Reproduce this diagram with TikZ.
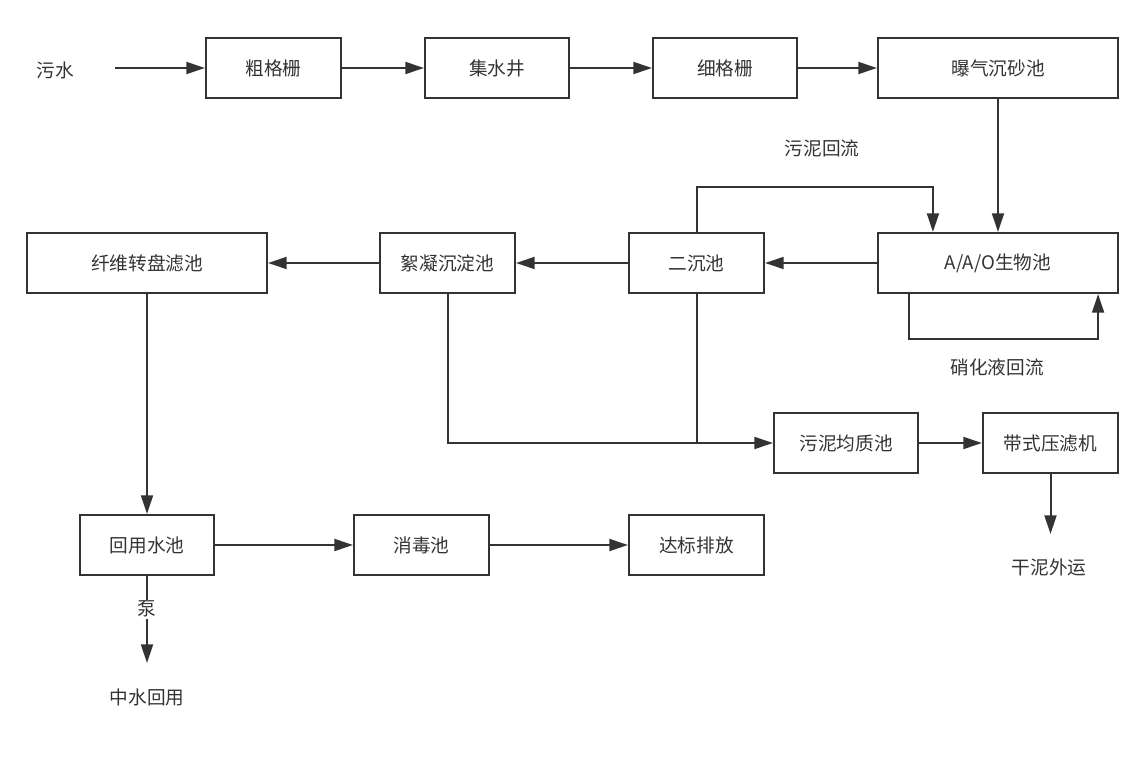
\documentclass[tikz,border=0pt]{standalone}
\usepackage{fontspec}
\newfontfamily\cjk{Noto Sans CJK SC}
\usetikzlibrary{arrows.meta,calc}
\definecolor{ln}{HTML}{333333}
\tikzset{
  box/.style={draw=ln, line width=1.6pt, minimum height=45pt, inner sep=0pt, text=ln, font=\cjk\fontsize{14}{16}\selectfont},
  lbl/.style={text=ln, inner sep=1pt, font=\cjk\fontsize{14}{16}\selectfont},
  conn/.style={draw=ln, line width=1.5pt},
  arr/.style={conn, -{Triangle[length=14pt,width=9pt]}}
}
\begin{document}
\begin{tikzpicture}[x=0.75pt,y=-0.75pt]
\useasboundingbox (0,0) rectangle (1143,762);
% boxes
\node[box, minimum width=101.25pt] (cg)  at (273.5,68) {粗格栅};
\node[box, minimum width=108pt]    (jsj) at (497,68)   {集水井};
\node[box, minimum width=108pt]    (xgs) at (725,68)   {细格栅};
\node[box, minimum width=180pt]    (bq)  at (998,68)   {曝气沉砂池};
\node[box, minimum width=180pt]    (aao) at (998,263)  {A/A/O生物池};
\node[box, minimum width=101.25pt] (ecc) at (696.5,263) {二沉池};
\node[box, minimum width=101.25pt] (xn)  at (447.5,263) {絮凝沉淀池};
\node[box, minimum width=180pt]    (xw)  at (147,263)  {纤维转盘滤池};
\node[box, minimum width=108pt]    (wn)  at (846,443)  {污泥均质池};
\node[box, minimum width=101.25pt] (dy)  at (1050.5,443) {带式压滤机};
\node[box, minimum width=100.5pt]  (hy)  at (147,545)  {回用水池};
\node[box, minimum width=101.25pt] (xd)  at (421.5,545) {消毒池};
\node[box, minimum width=101.25pt] (db)  at (696.5,545) {达标排放};
% free labels
\node[lbl] (ws)   at (55,70)    {污水};
\node[lbl] (wnhl) at (822,148)  {污泥回流};
\node[lbl] (xhhl) at (997,367)  {硝化液回流};
\node[lbl] (gn)   at (1049,567) {干泥外运};
\node[lbl] (zs)   at (147,697)  {中水回用};
\coordinate (wsS) at (115,68);
\coordinate (gnE) at (1050.5,534);
\coordinate (zsE) at (147,663);
% connectors
\draw[arr] (wsS) -- (cg);
\draw[arr] (cg) -- (jsj);
\draw[arr] (jsj) -- (xgs);
\draw[arr] (xgs) -- (bq);
\draw[arr] (bq) -- (aao);
\draw[arr] (aao) -- (ecc);
\draw[arr] (ecc) -- (xn);
\draw[arr] (xn) -- (xw);
\draw[arr] (ecc.north) -- ++(0,-45) -| ($(aao.north west)+(56,0)$);
\draw[arr] ($(aao.south west)+(32,0)$) -- ++(0,45) -| ($(aao.south east)+(-21,0)$);
\draw[arr] (xn.south) |- (wn.west);
\draw[conn] (ecc.south) -- (ecc.south |- wn.west);
\draw[arr] (wn) -- (dy);
\draw[arr] (dy) -- (gnE);
\draw[arr] (xw) -- (hy);
\draw[arr] (hy) -- (xd);
\draw[arr] (xd) -- (db);
\draw[arr] (hy) -- node[lbl, fill=white, pos=0.38] (beng) {泵} (zsE);
\end{tikzpicture}
\end{document}
